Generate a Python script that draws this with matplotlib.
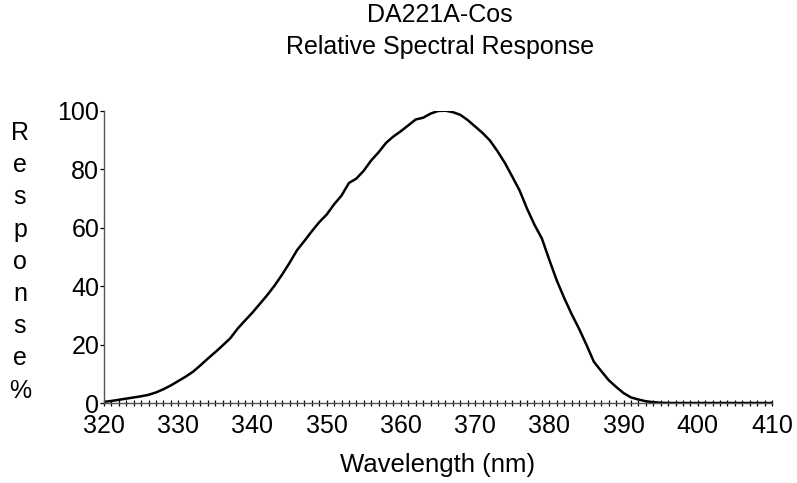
import matplotlib
matplotlib.use("Agg")
import matplotlib.pyplot as plt
from matplotlib.ticker import MultipleLocator

plt.rcParams['font.family'] = ['Liberation Sans', 'DejaVu Sans']

wavelength = list(range(320, 411))
response = [0.5, 0.8, 1.2, 1.6, 2.0, 2.4, 2.9, 3.7, 4.8, 6.1,
            7.6, 9.1, 10.8, 13.0, 15.3, 17.5, 19.8, 22.2, 25.5, 28.3,
            31.0, 34.0, 37.0, 40.3, 44.0, 48.0, 52.3, 55.5, 58.8, 61.9,
            64.5, 68.0, 71.0, 75.3, 76.8, 79.5, 83.0, 85.8, 89.0, 91.2,
            93.0, 95.0, 97.0, 97.6, 99.0, 99.9, 100.0, 99.5, 98.6, 96.8,
            94.6, 92.4, 89.8, 86.2, 82.2, 77.5, 72.7, 66.5, 61.0, 56.3,
            49.0, 42.0, 36.0, 30.5, 25.5, 20.0, 14.2, 11.0, 7.9, 5.6,
            3.5, 2.0, 1.3, 0.7, 0.4, 0.2, 0.1, 0.1, 0.1, 0.1,
            0.1, 0.1, 0.1, 0.1, 0.1, 0.1, 0.1, 0.1, 0.1, 0.1, 0.1]

title_lines = ["DA221A-Cos", "Relative Spectral Response"]
ylabel_letters = list("Response%")
xlabel = "Wavelength (nm)"

W, H = 797, 483
fig = plt.figure(figsize=(W / 100, H / 100), dpi=100)
ax = fig.add_axes([104 / W, 1 - 403.3 / H, (772 - 104) / W, (403.3 - 110.7) / H])

ax.plot(wavelength, response, color='black', lw=1.8, solid_joinstyle='round')
ax.set_xlim(320, 410)
ax.set_ylim(0, 100)

for s in ['top', 'right']:
    ax.spines[s].set_visible(False)
for s in ['left', 'bottom']:
    ax.spines[s].set_color('#555555')
    ax.spines[s].set_linewidth(1.0)

ax.xaxis.set_major_locator(MultipleLocator(10))
ax.xaxis.set_minor_locator(MultipleLocator(1))
ax.yaxis.set_major_locator(MultipleLocator(20))
ax.tick_params(axis='x', which='both', direction='inout', length=5, width=0.9,
               color='black', labelsize=18, pad=5)
ax.tick_params(axis='y', which='major', direction='out', length=3, width=0.9,
               color='black', labelsize=18, pad=0.5)

fig.text(438 / W, 1 - 465 / H, xlabel, ha='center', va='center', fontsize=18.5)

fig.text(440 / W, 1 - 15 / H, title_lines[0], ha='center', va='center', fontsize=18)
fig.text(440 / W, 1 - 47 / H, title_lines[1], ha='center', va='center', fontsize=18)

for i, ch in enumerate(ylabel_letters):
    y = 140 + 32.2 * i
    fig.text(20 / W, 1 - y / H, ch, ha='center', va='baseline', fontsize=18)

fig.savefig('out.png', dpi=100)
